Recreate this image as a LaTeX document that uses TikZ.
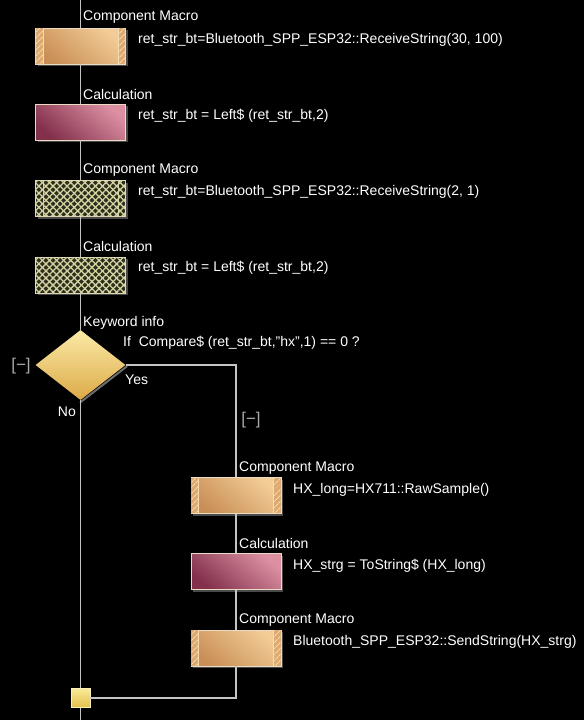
\documentclass[tikz,border=0pt]{standalone}
\usepackage{fontspec}
\setmainfont{Liberation Sans}
\usetikzlibrary{shapes.geometric,patterns.meta,shadows}
\definecolor{wirec}{HTML}{C4C4C4}
\definecolor{edgec}{HTML}{EADCC4}
\definecolor{shadc}{HTML}{4A4A4A}
\definecolor{macroDark}{HTML}{C88E55}
\definecolor{macroLight}{HTML}{F3CD98}
\definecolor{stripBg}{HTML}{DDAA72}
\definecolor{stripLn}{HTML}{F6DAB0}
\definecolor{calcDark}{HTML}{83304C}
\definecolor{calcLight}{HTML}{DC90A2}
\definecolor{disBg}{HTML}{2E2E1E}
\definecolor{disLn}{HTML}{D4D4A2}
\definecolor{decLight}{HTML}{FBEAA6}
\definecolor{decDark}{HTML}{DCAA48}
\definecolor{junLight}{HTML}{FAEA96}
\definecolor{junDark}{HTML}{E2C04C}
\definecolor{brc}{HTML}{A8A8A8}
\newcommand\hatchstrips[1]{%
  \fill[stripBg] ([shift={(0.6pt,-0.6pt)}]#1.north west) rectangle ([shift={(8pt,0.6pt)}]#1.south west);
  \fill[pattern={Lines[angle=45,distance=4pt,line width=0.9pt]},pattern color=stripLn]
    ([shift={(0.6pt,-0.6pt)}]#1.north west) rectangle ([shift={(8pt,0.6pt)}]#1.south west);
  \fill[stripBg] ([shift={(-8pt,-0.6pt)}]#1.north east) rectangle ([shift={(-0.6pt,0.6pt)}]#1.south east);
  \fill[pattern={Lines[angle=45,distance=4pt,line width=0.9pt]},pattern color=stripLn]
    ([shift={(-8pt,-0.6pt)}]#1.north east) rectangle ([shift={(-0.6pt,0.6pt)}]#1.south east);
  \draw[stripLn,line width=0.5pt] ([xshift=8pt]#1.north west) -- ([xshift=8pt]#1.south west);
  \draw[stripLn,line width=0.5pt] ([xshift=-8pt]#1.north east) -- ([xshift=-8pt]#1.south east);
}
\newcommand\disstrips[1]{%
  \draw[disLn,line width=0.6pt] ([xshift=8pt]#1.north west) -- ([xshift=8pt]#1.south west);
  \draw[disLn,line width=0.6pt] ([xshift=-8pt]#1.north east) -- ([xshift=-8pt]#1.south east);
}
\begin{document}
\begin{tikzpicture}[x=1pt,y=-1pt,
  font=\fontsize{14}{16}\selectfont,
  every node/.style={text=white},
  blk/.style={minimum width=90pt,minimum height=36pt,inner sep=0pt,
    draw=edgec,line width=0.6pt,
    drop shadow={shadow xshift=2pt,shadow yshift=-2pt,fill=shadc,opacity=1}},
  macro/.style={blk,top color=macroLight,bottom color=macroDark,shading angle=-40},
  calc/.style={blk,top color=calcLight,bottom color=calcDark,shading angle=-40},
  disabled/.style={blk,fill=disBg,
    postaction={pattern={Lines[angle=45,distance=5pt,line width=1.3pt]},pattern color=disLn},
    postaction={pattern={Lines[angle=-45,distance=5pt,line width=1.3pt]},pattern color=disLn}},
  lbl/.style={anchor=west,inner sep=0pt},
  code/.style={anchor=west,inner sep=0pt},
  brk/.style={inner sep=0pt,text=brc,font=\fontsize{17}{19}\selectfont},
  wire/.style={draw=wirec,line width=1.1pt}]
\fill[black] (0,0) rectangle (584,720);
\useasboundingbox (0,0) rectangle (584,720);

\coordinate (top) at (80.5,0);
\coordinate (bot) at (80.5,720);

% left column
\node[macro] (m1) at (80.5,46) {};
\hatchstrips{m1}
\node[lbl] (m1l) at (83,17) {Component Macro};
\node[code] (m1t) at (138,40) {ret\_str\_bt=Bluetooth\_SPP\_ESP32::ReceiveString(30, 100)};

\node[calc] (c1) at (80.5,122) {};
\node[lbl] (c1l) at (83,94) {Calculation};
\node[code] (c1t) at (138,116) {ret\_str\_bt = Left\$ (ret\_str\_bt,2)};

\node[blk,disabled] (m2) at (80.5,198.5) {};
\disstrips{m2}
\node[lbl] (m2l) at (83,170) {Component Macro};
\node[code] (m2t) at (138,192) {ret\_str\_bt=Bluetooth\_SPP\_ESP32::ReceiveString(2, 1)};

\node[blk,disabled] (c2) at (80.5,275) {};
\node[lbl] (c2l) at (83,246) {Calculation};
\node[code] (c2t) at (138,268) {ret\_str\_bt = Left\$ (ret\_str\_bt,2)};

% decision
\node[diamond,minimum width=90pt,minimum height=70pt,inner sep=0pt,
  top color=decLight,bottom color=decDark] (d) at (80.5,365) {};
\draw[draw=shadc!80!white,line width=2pt,line cap=round] ([shift={(1,1.5)}]d.east) -- ([shift={(0,2)}]d.south);
\node[lbl] (dl) at (83,323) {Keyword info};
\node[code] (dt) at (123,343) {If\ \ Compare\$ (ret\_str\_bt,\symbol{34}hx\symbol{34},1) == 0 ?};
\node[brk] (bl) at (21,366) {[−]};
\node[lbl] (yes) at (125,380) {Yes};
\node[anchor=east,inner sep=0pt] (no) at (76,412) {No};
\node[brk] (br) at (251,420) {[−]};

% right column
\node[macro] (m3) at (236,495.5) {};
\hatchstrips{m3}
\node[lbl] (m3l) at (239,468) {Component Macro};
\node[code] (m3t) at (293,490) {HX\_long=HX711::RawSample()};

\node[calc] (c3) at (236,571.5) {};
\node[lbl] (c3l) at (239,543) {Calculation};
\node[code] (c3t) at (293,566) {HX\_strg = ToString\$ (HX\_long)};

\node[macro] (m4) at (236,648) {};
\hatchstrips{m4}
\node[lbl] (m4l) at (239,620) {Component Macro};
\node[code] (m4t) at (293,642) {Bluetooth\_SPP\_ESP32::SendString(HX\_strg)};

% junction
\node[minimum width=19pt,minimum height=19pt,inner sep=0pt,
  top color=junLight,bottom color=junDark,draw=junLight!70!white,line width=0.5pt] (j) at (80.5,698) {};

% connectors
\draw[wire] (top) -- (m1.north);
\draw[wire] (m1.south) -- (c1.north);
\draw[wire] (c1.south) -- (m2.north);
\draw[wire] (m2.south) -- (c2.north);
\draw[wire] (c2.south) -- (d.north);
\draw[wire] (d.east) -| (m3.north);
\draw[wire] (m3.south) -- (c3.north);
\draw[wire] (c3.south) -- (m4.north);
\draw[wire] (m4.south) |- (j.east);
\draw[wire] (d.south) -- (j.north);
\draw[wire] (j.south) -- (bot);
\end{tikzpicture}
\end{document}
